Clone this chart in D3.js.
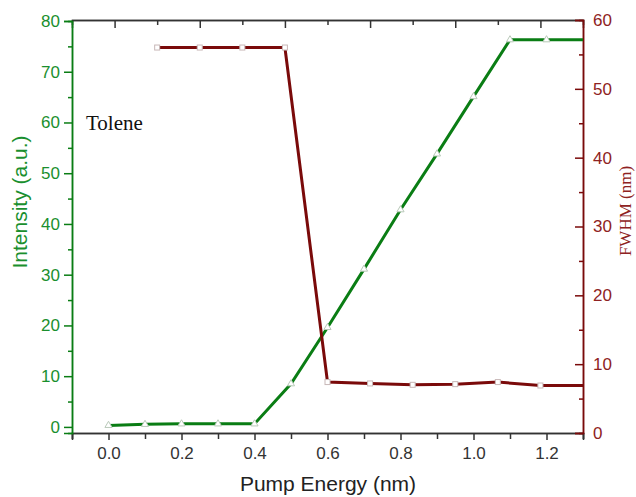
<!DOCTYPE html>
<html>
<head>
<meta charset="utf-8">
<script src="https://cdn.jsdelivr.net/npm/d3@7"></script>
<style>
  body { margin: 0; background: #fff; }
  svg text { font-family: "Liberation Sans", Arial, sans-serif; }
</style>
</head>
<body>
<div id="chart"></div>
<script>
// green series: intensity vs pump energy (bottom axis)
var energy = [0.0, 0.1, 0.2, 0.3, 0.4, 0.5, 0.6, 0.7, 0.8, 0.9, 1.0, 1.1, 1.2]
var intensity = [0.3, 0.5, 0.6, 0.6, 0.6, 8.5, 19.6, 31.1, 42.8, 53.8, 65.1, 76.3, 76.3]
// red series: FWHM, plotted against the top (index) axis
var fwhmIndex = [1, 2, 3, 4, 5, 6, 7, 8, 9, 10]
var fwhm = [56, 56, 56, 56, 7.4, 7.2, 7.0, 7.1, 7.4, 6.9]

var xTicks = [0.0, 0.2, 0.4, 0.6, 0.8, 1.0, 1.2]
var leftTicks = [0, 10, 20, 30, 40, 50, 60, 70, 80]
var rightTicks = [0, 10, 20, 30, 40, 50, 60]

const green = "#0a7d14", greenText = "#1a8f2e"
const red = "#7a0a0a", redText = "#8e2222"

const width = 636, height = 497
const plot = {left: 72, right: 583, top: 20, bottom: 433}

var svg = d3.select("#chart").append("svg")
  .attr("width", width)
  .attr("height", height)

var x = d3.scaleLinear().domain([-0.1, 1.3]).range([plot.left, plot.right])
var xTop = d3.scaleLinear().domain([-1, 11]).range([plot.left, plot.right])
var yLeft = d3.scaleLinear().domain([-1.2, 80]).range([plot.bottom, 21])
var yRight = d3.scaleLinear().domain([0, 60]).range([plot.bottom, plot.top])

// axes
var bottomAxis = svg.append("g")
  .attr("transform", "translate(0," + plot.bottom + ")")
  .call(d3.axisBottom(x).tickValues(xTicks).tickFormat(d3.format(".1f")).tickSize(7).tickPadding(7))
bottomAxis.append("g").call(d3.axisBottom(x).tickValues(d3.range(-0.1, 1.31, 0.2)).tickSize(6).tickFormat(""))

var topAxis = svg.append("g")
  .attr("transform", "translate(0," + plot.top + ")")
  .call(d3.axisTop(xTop).tickValues([0, 2, 4, 6, 8, 10]).tickSize(-8).tickFormat(""))
topAxis.append("g").call(d3.axisTop(xTop).tickValues([1, 3, 5, 7, 9]).tickSize(-5).tickFormat(""))

var leftAxis = svg.append("g")
  .attr("transform", "translate(" + plot.left + ",0)")
  .call(d3.axisLeft(yLeft).tickValues(leftTicks).tickSize(8).tickPadding(4))
leftAxis.append("g").call(d3.axisLeft(yLeft).tickValues(d3.range(5, 80, 10)).tickSize(4).tickFormat(""))

var rightAxis = svg.append("g")
  .attr("transform", "translate(" + plot.right + ",0)")
  .call(d3.axisRight(yRight).tickValues(rightTicks).tickSize(-8).tickPadding(10))
rightAxis.append("g").call(d3.axisRight(yRight).tickValues(d3.range(5, 60, 10)).tickSize(-4).tickFormat(""))

svg.selectAll(".domain").attr("stroke-width", 1.5)
svg.selectAll(".tick line").attr("stroke-width", 1.5)
svg.selectAll(".tick text").style("font-size", "17px")

bottomAxis.selectAll("path, line").attr("stroke", "#333")
bottomAxis.selectAll("text").attr("fill", "#333")
topAxis.selectAll("path, line").attr("stroke", "#333")
leftAxis.selectAll("path, line").attr("stroke", green)
leftAxis.selectAll("text").attr("fill", greenText)
rightAxis.selectAll("path, line").attr("stroke", red)
rightAxis.selectAll("text").attr("fill", redText)

// green line
var gData = energy.map((d, i) => [d, intensity[i]])
var gLine = gData.concat([[x.domain()[1], intensity[intensity.length - 1]]])
svg.append("path")
  .datum(gLine)
  .attr("fill", "none")
  .attr("stroke", green)
  .attr("stroke-width", 3)
  .attr("d", d3.line().x(d => x(d[0])).y(d => yLeft(d[1])))

svg.selectAll(".tri")
  .data(gData)
  .enter().append("path")
  .attr("class", "tri")
  .attr("transform", d => "translate(" + x(d[0]) + "," + yLeft(d[1]) + ")")
  .attr("d", d3.symbol().type(d3.symbolTriangle).size(22))
  .attr("fill", "#fff")
  .attr("stroke", "#b9c9b9")
  .attr("stroke-width", 1)

// red line
var rData = fwhmIndex.map((d, i) => [d, fwhm[i]])
var rLine = rData.concat([[xTop.domain()[1], fwhm[fwhm.length - 1]]])
svg.append("path")
  .datum(rLine)
  .attr("fill", "none")
  .attr("stroke", red)
  .attr("stroke-width", 3)
  .attr("d", d3.line().x(d => xTop(d[0])).y(d => yRight(d[1])))

svg.selectAll(".sq")
  .data(rData)
  .enter().append("rect")
  .attr("class", "sq")
  .attr("x", d => xTop(d[0]) - 2.5)
  .attr("y", d => yRight(d[1]) - 2.5)
  .attr("width", 5)
  .attr("height", 5)
  .attr("fill", "#fff")
  .attr("stroke", "#c8b8b8")
  .attr("stroke-width", 1)

// labels
svg.append("text")
  .attr("x", 328)
  .attr("y", 491)
  .attr("text-anchor", "middle")
  .style("font-size", "21px")
  .attr("fill", "#222")
  .text("Pump Energy (nm)")

svg.append("text")
  .attr("transform", "translate(27,202) rotate(-90)")
  .attr("text-anchor", "middle")
  .style("font-size", "21px")
  .attr("fill", greenText)
  .text("Intensity (a.u.)")

svg.append("text")
  .attr("transform", "translate(631,211) rotate(-90)")
  .attr("text-anchor", "middle")
  .style("font-family", "'Liberation Serif', 'Times New Roman', serif")
  .style("font-size", "17px")
  .attr("fill", redText)
  .text("FWHM (nm)")

svg.append("text")
  .attr("x", 86)
  .attr("y", 130)
  .style("font-family", "'Liberation Serif', 'Times New Roman', serif")
  .style("font-size", "21px")
  .attr("fill", "#111")
  .text("Tolene")
</script>
</body>
</html>
